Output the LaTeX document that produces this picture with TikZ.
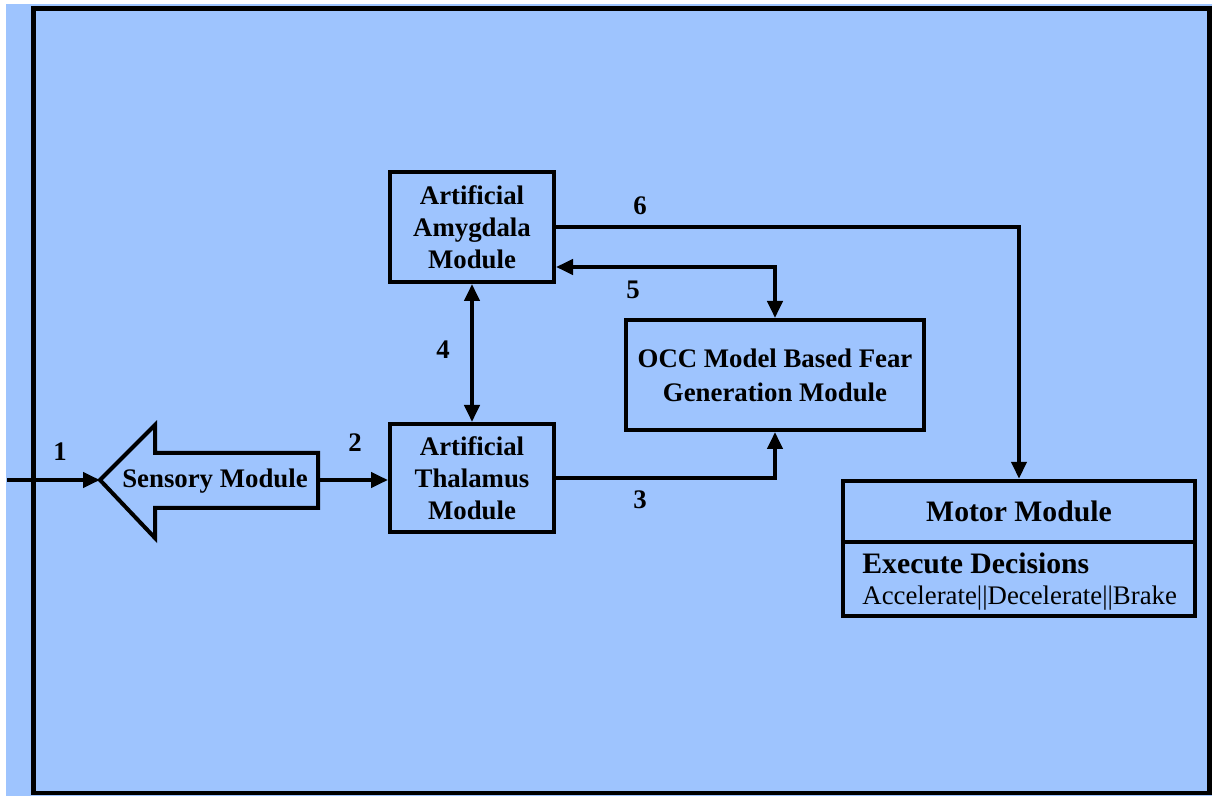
\documentclass[tikz,border=0pt]{standalone}
\usepackage{fontspec}
\setmainfont{Liberation Serif}
\usetikzlibrary{arrows.meta,calc,positioning}
\definecolor{skyfill}{RGB}{158,196,254}
\newcommand\labelfont{\fontsize{13.4}{16}\selectfont\bfseries}
\newcommand\motorfont{\fontsize{14.85}{18}\selectfont\bfseries}

\begin{document}
\begin{tikzpicture}[x=0.5pt,y=-0.5pt,
    module/.style={draw=black,line width=2pt,align=center,inner sep=0pt,font=\labelfont},
    link/.style={line width=2pt,-{Triangle[length=8.5pt,width=7.5pt]}},
    twoway/.style={line width=2pt,{Triangle[length=8.5pt,width=7.5pt]}-{Triangle[length=8.5pt,width=7.5pt]}},
    num/.style={font=\labelfont}]
    \useasboundingbox (0,0) rectangle (1212,796);

    % Background and frame
    \fill[skyfill] (6,4) rectangle (1212,796);
    \draw[line width=2.2pt] (33.5,8.5) rectangle (1209.5,793);

    % Sensory arrow
    \coordinate (sensTip) at (100,480);
    \coordinate (sensEnd) at (318,480);
    \draw[line width=2pt,miter limit=20] (sensTip) -- (155,425) -- (155,453) -- (318,453)
        -- (318,508) -- (155,508) -- (155,538) -- cycle;
    \node[font=\labelfont] (sensory) at (215,481) {Sensory Module};
    \coordinate (input) at (7,480);

    % Modules
    \node[module,minimum width=82pt,minimum height=55pt] (amygdala) at (472,227)
        {Artificial\\Amygdala\\Module};
    \node[module,minimum width=82pt,minimum height=54pt] (thalamus) at (472,478)
        {Artificial\\Thalamus\\Module};
    \node[module,minimum width=149pt,minimum height=55pt,font=\fontsize{13.4}{17}\selectfont\bfseries] (occ) at (775,375)
        {OCC Model Based Fear\\Generation Module};

    % Motor module
    \node[draw=black,line width=2.2pt,minimum width=176pt,minimum height=67.5pt] (motor) at (1019,548.5) {};
    \draw[line width=2pt] (motor.west |- 0,542) -- (motor.east |- 0,542);
    \node[font=\motorfont] (motorTitle) at (1019,511) {Motor Module};
    \node[font=\motorfont,anchor=west,inner sep=0pt] (decide) at (862,563) {Execute Decisions};
    \node[font=\fontsize{13.4}{16}\selectfont,anchor=west,inner sep=0pt] (actions) at (862,598)
        {Accelerate||Decelerate||Brake};

    % Connectors
    \draw[link] (input) -- (sensTip);
    \draw[link] (sensEnd) -- (sensEnd -| thalamus.west);
    \draw[link] (thalamus.east) -| (occ.south);
    \draw[twoway] (amygdala.south) -- (thalamus.north);
    \draw[twoway] ([yshift=-20pt]amygdala.east) -| (occ.north);
    \draw[link] (amygdala.east) -| (motor.north);

    % Numbers
    \node[num] (n1) at (60,452) {1};
    \node[num] (n2) at (355,443) {2};
    \node[num] (n3) at (640,500) {3};
    \node[num] (n4) at (443,350) {4};
    \node[num] (n5) at (633,290) {5};
    \node[num] (n6) at (640,206) {6};
\end{tikzpicture}
\end{document}
